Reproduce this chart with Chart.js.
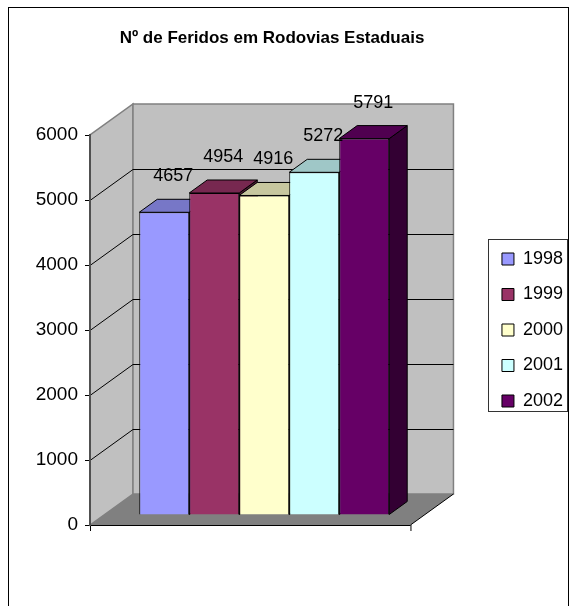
<!DOCTYPE html>
<html>
<head>
<meta charset="utf-8">
<title>Feridos em Rodovias Estaduais</title>
<script src="https://cdn.jsdelivr.net/npm/chart.js@4.4.1/dist/chart.umd.min.js"></script>
<style>
  html, body { margin: 0; padding: 0; background: #fff; }
  #wrap { width: 577px; height: 606px; }
</style>
</head>
<body>
<div id="wrap"><canvas id="feridosChart" width="577" height="606"></canvas></div>
<script>
// dados
const categorias = [''];
const anos = ['1998', '1999', '2000', '2001', '2002'];
const feridos = [4657, 4954, 4916, 5272, 5791];
const cores = ['#9999ff', '#993366', '#ffffcc', '#ccffff', '#660066'];
const escalaY = { min: 0, max: 6000, passo: 1000 };
const titulo = 'Nº de Feridos em Rodovias Estaduais';

const FONTE = '"Liberation Sans", Arial, sans-serif';

// deslocamentos do "3D" (em pixels)
const PAREDE = { x: 43, y: -31 };  // profundidade do fundo
const PLANO = { x: 14, y: -10 };   // plano frontal das barras
const FUNDO_BARRA = { x: 18, y: -13 };

function tom(hex, f) {
  const n = parseInt(hex.slice(1), 16);
  const r = Math.round(((n >> 16) & 255) * f);
  const g = Math.round(((n >> 8) & 255) * f);
  const b = Math.round((n & 255) * f);
  return 'rgb(' + r + ',' + g + ',' + b + ')';
}

function poligono(ctx, pts, fill, stroke, lw) {
  ctx.beginPath();
  ctx.moveTo(pts[0][0], pts[0][1]);
  for (let i = 1; i < pts.length; i++) ctx.lineTo(pts[i][0], pts[i][1]);
  ctx.closePath();
  if (fill) { ctx.fillStyle = fill; ctx.fill(); }
  if (stroke) { ctx.strokeStyle = stroke; ctx.lineWidth = lw || 1; ctx.stroke(); }
}

function linha(ctx, x1, y1, x2, y2, cor, lw) {
  ctx.beginPath();
  ctx.moveTo(x1, y1);
  ctx.lineTo(x2, y2);
  ctx.strokeStyle = cor;
  ctx.lineWidth = lw || 1;
  ctx.stroke();
}

const efeito3d = {
  id: 'efeito3d',
  beforeDraw(chart) {
    const ctx = chart.ctx;
    const area = chart.chartArea;
    const y = chart.scales.y;
    const L = area.left, R = area.right;
    const y0 = y.getPixelForValue(escalaY.min);
    const yMax = y.getPixelForValue(escalaY.max);
    const dx = PAREDE.x, dy = PAREDE.y;

    ctx.save();
    ctx.fillStyle = '#fff';
    ctx.fillRect(0, 0, chart.width, chart.height);
    ctx.strokeStyle = '#000';
    ctx.lineWidth = 1;
    ctx.strokeRect(8.5, 7.5, 560, 640);

    // parede lateral e fundo
    poligono(ctx, [[L, y0], [L, yMax], [L + dx, yMax + dy], [L + dx, y0 + dy]], '#c0c0c0', '#808080', 1.5);
    poligono(ctx, [[L + dx, yMax + dy], [R + dx, yMax + dy], [R + dx, y0 + dy], [L + dx, y0 + dy]], '#c0c0c0', '#808080', 1.5);

    // linhas de grade
    for (let v = escalaY.min + escalaY.passo; v < escalaY.max; v += escalaY.passo) {
      const py = Math.round(y.getPixelForValue(v)) + 0.5;
      linha(ctx, L, py, L + dx, py + dy, '#000', 1);
      linha(ctx, L + dx, py + dy, R + dx, py + dy, '#000', 1);
    }

    // piso
    poligono(ctx, [[L, y0], [R, y0], [R + dx, y0 + dy], [L + dx, y0 + dy]], '#808080', null);
    linha(ctx, R, y0, R + dx, y0 + dy, '#000', 1);
    linha(ctx, L, y0 + 0.5, R, y0 + 0.5, '#000', 1);
    linha(ctx, L + 0.5, y0, L + 0.5, y0 + 6, '#000', 1);
    linha(ctx, R + 0.5, y0, R + 0.5, y0 + 6, '#000', 1);
    ctx.restore();
  },
  beforeDatasetsDraw(chart) {
    const ctx = chart.ctx;
    const bx = FUNDO_BARRA.x, by = FUNDO_BARRA.y;
    ctx.save();
    chart.data.datasets.forEach((ds, i) => {
      const el = chart.getDatasetMeta(i).data[0];
      const esq = el.x - el.width / 2 + PLANO.x;
      const dir = el.x + el.width / 2 + PLANO.x;
      const topo = el.y + PLANO.y;
      const base = el.base + PLANO.y;
      const cor = ds.backgroundColor;
      poligono(ctx, [[dir, topo], [dir + bx, topo + by], [dir + bx, base + by], [dir, base]], tom(cor, 0.5), '#000', 1);
      poligono(ctx, [[esq, topo], [esq + bx, topo + by], [dir + bx, topo + by], [dir, topo]], tom(cor, 0.78), '#000', 1);
    });
    ctx.restore();
    // as faces frontais (desenhadas pelo Chart.js) ficam no plano das barras
    ctx.save();
    ctx.translate(PLANO.x, PLANO.y);
  },
  afterDatasetsDraw(chart) {
    const ctx = chart.ctx;
    ctx.restore();
    ctx.save();
    ctx.font = '18px ' + FONTE;
    ctx.fillStyle = '#000';
    ctx.textAlign = 'center';
    ctx.textBaseline = 'middle';
    chart.data.datasets.forEach((ds, i) => {
      const el = chart.getDatasetMeta(i).data[0];
      ctx.fillText(String(ds.data[0]), el.x + PLANO.x + 9, el.y + PLANO.y - 36);
    });
    ctx.restore();
  },
  afterDraw(chart) {
    // moldura da legenda
    const hb = chart.legend.legendHitBoxes;
    if (!hb || !hb.length) return;
    const ctx = chart.ctx;
    const primeiro = hb[0], ultimo = hb[hb.length - 1];
    const x1 = Math.round(primeiro.left - 14) + 0.5;
    const x2 = Math.round(primeiro.left + 65) + 0.5;
    const y1 = Math.round(primeiro.top + primeiro.height / 2 - 20) + 0.5;
    const y2 = Math.round(ultimo.top + ultimo.height / 2 + 10) + 0.5;
    ctx.save();
    ctx.strokeStyle = '#333';
    ctx.lineWidth = 1;
    ctx.strokeRect(x1, y1, x2 - x1, y2 - y1);
    ctx.restore();
  }
};

new Chart(document.getElementById('feridosChart'), {
  type: 'bar',
  data: {
    labels: categorias,
    datasets: anos.map((ano, i) => ({
      label: ano,
      data: [feridos[i]],
      backgroundColor: cores[i],
      borderColor: '#000',
      borderWidth: 1,
      clip: false
    }))
  },
  options: {
    responsive: false,
    animation: false,
    layout: { padding: { left: -29, top: 0, right: 4, bottom: 81 } },
    datasets: { bar: { categoryPercentage: 0.78, barPercentage: 1 } },
    scales: {
      x: { display: false },
      y: {
        min: escalaY.min,
        max: escalaY.max,
        afterFit: (s) => { s.width = 119; },
        ticks: {
          stepSize: escalaY.passo,
          padding: 7,
          color: '#000',
          font: { family: FONTE, size: 19 },
          callback: (v) => String(v)
        },
        grid: { drawOnChartArea: false, drawTicks: true, tickLength: 5, color: '#000' },
        border: { display: true, color: '#505050', width: 2 }
      },
      espaco: {
        type: 'linear',
        position: 'right',
        display: true,
        afterFit: (s) => { s.width = 74; },
        ticks: { display: false },
        grid: { display: false },
        border: { display: false }
      }
    },
    plugins: {
      title: {
        display: true,
        text: titulo,
        color: '#000',
        font: { family: FONTE, size: 17, weight: 'bold' },
        padding: { top: 28, bottom: 86.6 }
      },
      legend: {
        position: 'right',
        fullSize: false,
        labels: {
          boxWidth: 12,
          boxHeight: 12,
          padding: 17.5,
          color: '#000',
          font: { family: FONTE, size: 18 }
        }
      },
      tooltip: { enabled: false }
    }
  },
  plugins: [efeito3d]
});
</script>
</body>
</html>
